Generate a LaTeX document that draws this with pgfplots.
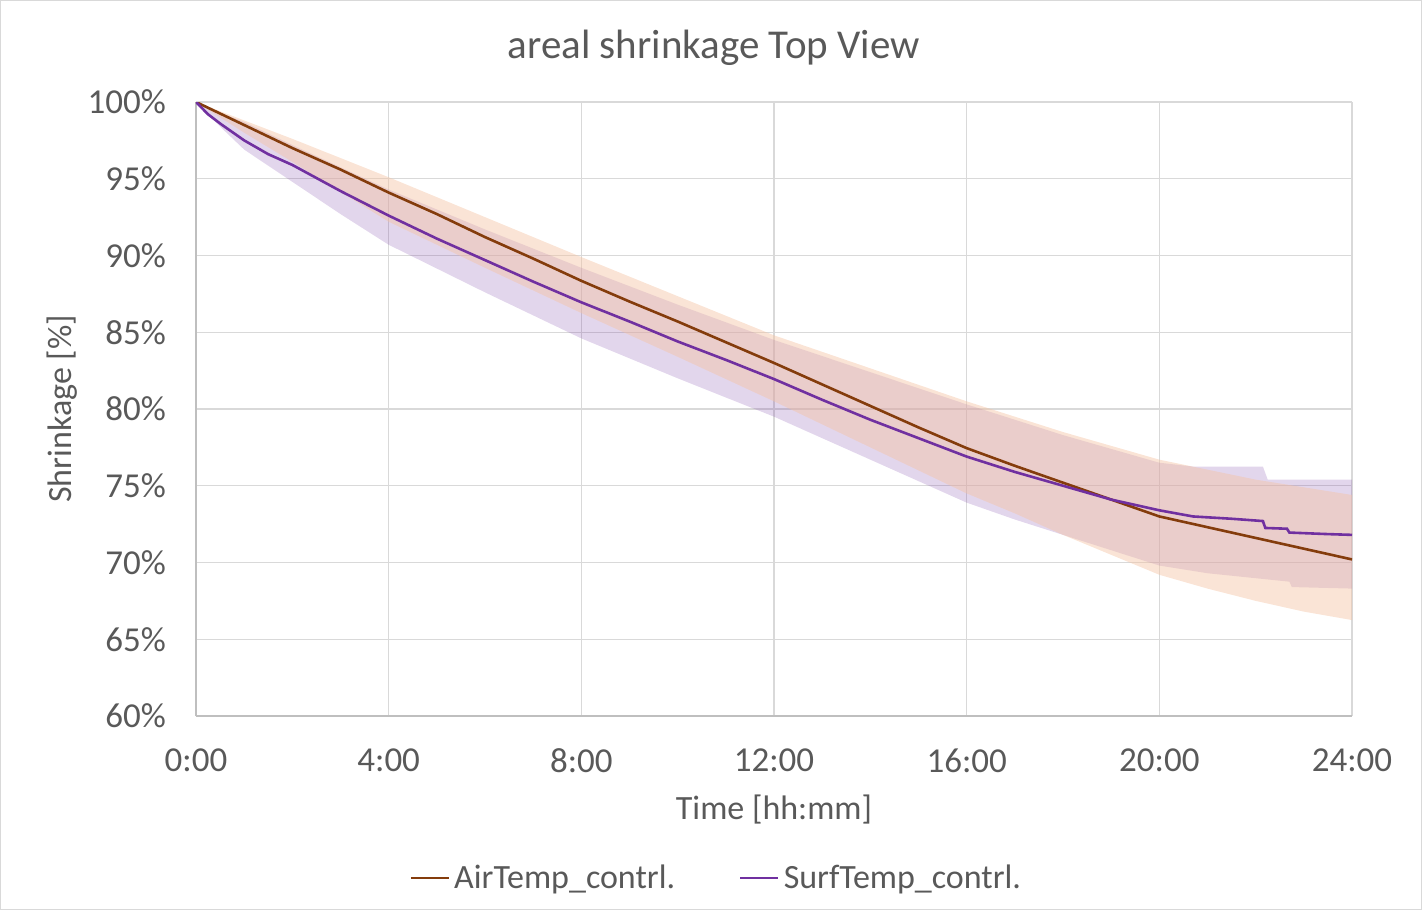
\documentclass[border=0pt]{standalone}
\usepackage{fontspec}
\setmainfont{Carlito}
\usepackage{pgfplots}
\pgfplotsset{compat=1.18}
\definecolor{airline}{HTML}{843C0C}
\definecolor{surfline}{HTML}{7030A0}
\definecolor{airband}{HTML}{F5C3A3}
\definecolor{surfband}{HTML}{7030A0}
\definecolor{gridgray}{HTML}{D9D9D9}
\definecolor{axgray}{HTML}{BFBFBF}
\definecolor{txt}{HTML}{595959}
\begin{document}
\begin{tikzpicture}
\begin{axis}[
    scale only axis, width=578pt, height=307pt,
    xmin=0, xmax=24, ymin=60, ymax=100,
    xtick={0,4,...,24},
    xticklabels={0:00,4:00,8:00,12:00,16:00,20:00,24:00},
    ytick={60,65,...,100},
    yticklabel={\pgfmathprintnumber{\tick}\%},
    /pgf/number format/assume math mode=true,
    major tick length=0pt,
    grid=major, grid style={gridgray, line width=0.6pt},
    axis line style={axgray, line width=0.6pt},
    axis x line*=bottom, axis y line*=left,
    tick label style={font=\fontsize{17.5}{20}\selectfont, text=txt},
    yticklabel style={xshift=-11.5pt},
    xticklabel style={yshift=-13pt},
    title={areal shrinkage Top View},
    title style={font=\fontsize{20.5}{24}\selectfont, text=txt,
        at={(axis description cs:0.448,1.069)}, anchor=center},
    xlabel={Time [hh:mm]},
    xlabel style={font=\fontsize{17}{20}\selectfont, text=txt,
        at={(axis description cs:0.5,-0.153)}, anchor=center},
    ylabel={Shrinkage [\%]},
    ylabel style={font=\fontsize{17}{20}\selectfont, text=txt,
        at={(axis description cs:-0.116,0.5)}, anchor=center},
    legend columns=2,
    legend style={at={(axis description cs:0.451,-0.264)}, anchor=center,
        draw=none, fill=none, font=\fontsize{17}{20}\selectfont, text=txt,
        /tikz/every even column/.append style={column sep=30pt}},
    legend image code/.code={\draw[#1] (0pt,0pt) -- (19pt,0pt);},
]
% spread bands (SurfTemp below, AirTemp on top)
\addplot[draw=none, fill=surfband, fill opacity=0.2, forget plot] coordinates {
  (0,100)(0.5,99.3)(1,98.7)(2,97.2)(4,94.3)(6,91.7)(8,89.2)(10,86.8)(12,84.5)
  (14,82.4)(16,80.3)(18,78.3)(20,76.5)(20.7,76.25)(22.15,76.25)(22.25,75.4)(24,75.4)
  (24,68.3)(22.75,68.4)(22.7,68.75)(21,69.3)(20,69.8)(19,70.8)(18,71.8)(17,72.8)
  (16,73.9)(14,76.7)(12,79.5)(10,82.0)(8,84.6)(6,87.6)(4,90.7)(3,92.7)(2,94.8)
  (1,96.9)(0.5,98.4)(0,100)} -- cycle;
\addplot[draw=none, fill=airband, fill opacity=0.45, forget plot] coordinates {
  (0,100)(1,98.8)(2,97.6)(4,95.1)(6,92.5)(8,89.9)(10,87.35)(12,84.8)(14,82.65)
  (16,80.5)(18,78.5)(20,76.7)(22,75.4)(24,74.4)
  (24,66.25)(23,66.8)(22,67.5)(21,68.3)(20,69.2)(19,70.5)(18,71.8)(17,73.2)
  (16,74.5)(14,77.5)(12,80.5)(10,83.4)(8,86.25)(6,89.2)(4,92.2)(2,96.1)(1,98.0)
  (0,100)} -- cycle;
% mean curves
\addplot[airline, line width=1.3pt] coordinates {
  (0,100)(0.5,99.25)(1,98.5)(2,97.0)(3,95.6)(4,94.1)(5,92.7)(6,91.2)(7,89.8)
  (8,88.35)(9,87.0)(10,85.7)(11,84.35)(12,83.0)(13,81.6)(14,80.2)(15,78.8)
  (16,77.45)(17,76.3)(18,75.2)(19,74.1)(20,73.0)(21,72.3)(22,71.6)(23,70.9)(24,70.2)};
\addplot[surfline, line width=1.3pt] coordinates {
  (0,100)(0.25,99.2)(0.5,98.6)(1,97.5)(1.5,96.6)(2,95.9)(3,94.2)(4,92.6)(5,91.1)
  (6,89.7)(7,88.3)(8,86.95)(9,85.7)(10,84.4)(11,83.2)(12,81.95)(13,80.6)(14,79.3)
  (15,78.1)(16,76.9)(17,75.9)(18,75.0)(19,74.1)(20,73.4)(20.7,73.0)(21.5,72.85)
  (22.15,72.7)(22.2,72.25)(22.65,72.2)(22.7,71.95)(23.5,71.85)(24,71.8)};
\legend{AirTemp\_contrl., SurfTemp\_contrl.}
\end{axis}
\pgfresetboundingbox
\draw[gray!30, line width=0.5pt]
  ([shift={(-97.75pt,-96.75pt)}]current axis.south west) rectangle
  ([shift={(612.75pt,357.75pt)}]current axis.south west);
\path ([shift={(-98pt,-97pt)}]current axis.south west) rectangle
  ([shift={(613pt,358pt)}]current axis.south west);
\end{tikzpicture}
\end{document}
